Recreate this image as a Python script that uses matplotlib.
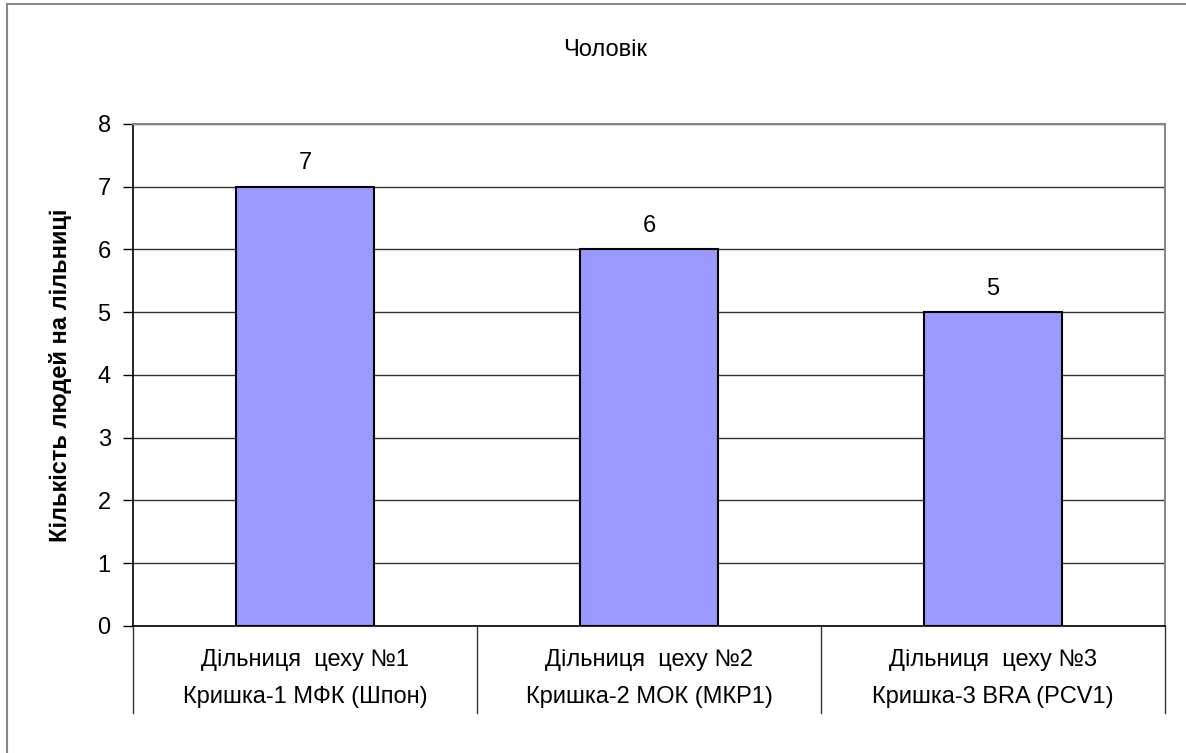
import matplotlib.pyplot as plt
from matplotlib.patches import Rectangle

plt.rcParams['font.family'] = ['Liberation Sans', 'DejaVu Sans']

# Дані по дільницях
dilnytsi = ['Дільниця  цеху №1', 'Дільниця  цеху №2', 'Дільниця  цеху №3']
kryshky = ['Кришка-1 МФК (Шпон)', 'Кришка-2 МОК (МКР1)', 'Кришка-3 BRA (PCV1)']
kilkist = [7, 6, 5]

fs = 17

fig = plt.figure(figsize=(11.86, 7.53), dpi=100)
ax = fig.add_axes([0.1121, 0.1687, 0.8702, 0.6667])

x = list(range(len(kilkist)))
bars = ax.bar(x, kilkist, width=0.4, color='#9999ff', edgecolor='black',
              linewidth=1.5, zorder=3)
for b, v in zip(bars, kilkist):
    ax.text(b.get_x() + b.get_width() / 2, v + 0.2, str(v),
            ha='center', va='bottom', fontsize=fs)

ax.set_xlim(-0.5, len(kilkist) - 0.5)
ax.set_ylim(0, 8)
ax.set_yticks(range(0, 9))
ax.tick_params(axis='y', labelsize=fs, length=7, width=1, direction='out', pad=9)
ax.set_xticks([])
ax.yaxis.grid(True, color='#333333', linewidth=1, zorder=0)

for s in ['top', 'right']:
    ax.spines[s].set_color('#888888')
    ax.spines[s].set_linewidth(1.5)
ax.spines['left'].set_color('black')
ax.spines['bottom'].set_color('black')
ax.spines['left'].set_linewidth(1.2)
ax.spines['bottom'].set_linewidth(1.2)

# Підписи категорій у два рядки та роздільники
trans = ax.get_xaxis_transform()
for i in range(len(kilkist) + 1):
    ax.plot([i - 0.5, i - 0.5], [0, -0.173], transform=trans, color='#333333',
            linewidth=1, clip_on=False)
for i, (d, k) in enumerate(zip(dilnytsi, kryshky)):
    ax.text(i, -0.068, d, transform=trans, ha='center', va='center', fontsize=fs)
    ax.text(i, -0.142, k, transform=trans, ha='center', va='center', fontsize=fs)

ax.set_ylabel('Кількість людей на лільниці', fontsize=fs, fontweight='bold',
              labelpad=18)
fig.text(0.51, 0.933, 'Чоловік', ha='center', va='center', fontsize=fs)

# Рамка навколо всієї діаграми
fig.patches.append(Rectangle((7 / 1186, -0.1), 1.2, 1 - 4 / 753 + 0.1,
                             transform=fig.transFigure, fill=False,
                             edgecolor='#888888', linewidth=1.5))

fig.savefig('out.png', dpi=100)
